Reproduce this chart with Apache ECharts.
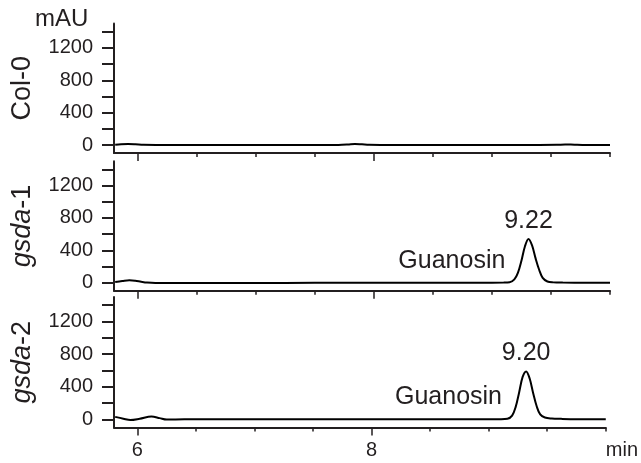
<!DOCTYPE html>
<html>
<head>
<meta charset="utf-8">
<script src="https://cdn.jsdelivr.net/npm/echarts@6/dist/echarts.min.js"></script>
<style>html,body{margin:0;padding:0;background:#fff}#c{width:641px;height:463px}</style>
</head>
<body>
<div id="c"></div>
<script>
// ---- data ----
var panelNames = ['Col-0', 'gsda-1', 'gsda-2'];
var yTickValues = [0, 200, 400, 600, 800, 1000, 1200, 1400];
var yLabelValues = [0, 400, 800, 1200];
var xMinorTicks = [6, 6.5, 7, 7.5, 8, 8.5, 9, 9.5, 10];
var xMajorTicks = [6, 8];
var xLabelValues = [6, 8, 10];

var col0Data = [
  [5.81, 4], [5.86, 9], [5.92, 11], [5.98, 8], [6.05, 2], [6.2, 0], [6.6, 0], [7.0, 0],
  [7.4, 0], [7.7, 1], [7.78, 6], [7.84, 13], [7.9, 8], [7.96, 2], [8.1, 0], [8.6, 0],
  [9.0, 0], [9.4, 0], [9.55, 2], [9.62, 7], [9.7, 3], [9.8, 0], [10.0, 0]
];
var gsda1Data = [
  [5.81, 8], [5.87, 20], [5.93, 30], [5.98, 24], [6.03, 12], [6.08, 2], [6.15, -4],
  [6.3, -5], [6.6, -4], [7.0, -3], [7.5, -2], [8.0, -1], [8.5, 0], [8.9, 0], [9.1, 1],
  [9.15, 5], [9.19, 40], [9.22, 120], [9.25, 270], [9.28, 450], [9.31, 540], [9.34, 460],
  [9.37, 300], [9.40, 160], [9.43, 60], [9.47, 15], [9.52, 4], [9.6, 1], [9.8, 0], [10.0, 0]
];
var gsda2Data = [
  [5.81, 30], [5.88, 8], [5.94, -8], [6.02, 8], [6.12, 35], [6.19, 15], [6.25, -3],
  [6.4, 0], [6.8, 0], [7.2, 0], [7.6, 0], [8.0, 0], [8.5, 0], [8.9, 0], [9.1, 1],
  [9.16, 6], [9.2, 45], [9.23, 150], [9.26, 330], [9.29, 520], [9.32, 588], [9.35, 500],
  [9.38, 320], [9.41, 160], [9.44, 60], [9.48, 22], [9.54, 10], [9.62, 6], [9.75, 2], [10.0, 0]
];
var seriesData = [col0Data, gsda1Data, gsda2Data];

// annotations: [panelIndex, x, y, text, position]
var annotations = [
  [1, 9.31, 540, '9.22', 'top'],
  [1, 9.135, 268, 'Guanosin', 'left'],
  [2, 9.32, 588, '9.20', 'top'],
  [2, 9.135, 268, 'Guanosin', 'left']
];

// ---- chart ----
var ink = '#231f20';
var font = "'Liberation Sans', Arial, Helvetica, sans-serif";
var grids = [
  {left: 114, width: 496, top: 23.6, height: 129.5},
  {left: 114, width: 496, top: 161.2, height: 129.6},
  {left: 114, width: 496, top: 297, height: 130.5}
];
var xAxes = [], yAxes = [], series = [];
for (var i = 0; i < 3; i++) {
  var last = i === 2;
  xAxes.push({
    type: 'value', gridIndex: i, min: 5.8, max: 10.0, position: 'bottom',
    axisLine: {show: true, onZero: false, lineStyle: {color: ink, width: 2}},
    axisTick: {show: true, customValues: xMinorTicks, length: 4, lineStyle: {color: ink, width: 1.5}},
    splitLine: {show: false},
    axisLabel: {show: last, customValues: xLabelValues, margin: 13, color: ink, fontSize: 20, fontFamily: font,
      alignMaxLabel: 'left',
      formatter: function (v) { return v === 10 ? 'min' : String(v); }}
  });
  xAxes.push({
    type: 'value', gridIndex: i, min: 5.8, max: 10.0, position: 'bottom', offset: 0,
    axisLine: {show: false, onZero: false},
    axisTick: {show: true, customValues: xMajorTicks, length: 8, lineStyle: {color: ink, width: 1.5}},
    splitLine: {show: false},
    axisLabel: {show: false}
  });
  var nm = i === 0 ? 'Col-0' : '{i|gsda}-' + i;
  yAxes.push({
    type: 'value', gridIndex: i, min: -100, max: 1500,
    name: nm, nameLocation: 'middle', nameRotate: 90, nameGap: 78,
    nameTextStyle: {color: ink, fontSize: 27, fontFamily: font,
      rich: {i: {fontStyle: 'italic', fontSize: 27, fontFamily: font, color: ink}}},
    axisLine: {show: true, onZero: false, lineStyle: {color: ink, width: 2}},
    axisTick: {show: true, customValues: yTickValues, length: 12, lineStyle: {color: ink, width: 2}},
    splitLine: {show: false},
    axisLabel: {show: true, customValues: yLabelValues, margin: 21, color: ink, fontSize: 20, fontFamily: font,
      formatter: function (v) { return String(v); }}
  });
  var mp = [];
  annotations.forEach(function (a) {
    if (a[0] !== i) return;
    mp.push({coord: [a[1], a[2]], value: a[3], symbolSize: 1,
      itemStyle: {color: 'rgba(0,0,0,0)'},
      label: {show: true, formatter: a[3], position: a[4], distance: a[4] === 'top' ? 5 : 2,
        color: ink, fontSize: 25, fontFamily: font}});
  });
  series.push({
    type: 'line', xAxisIndex: i * 2, yAxisIndex: i, data: seriesData[i],
    showSymbol: false, smooth: 0.35, lineStyle: {color: '#000', width: 2},
    markPoint: {symbol: 'circle', symbolSize: 1, itemStyle: {color: 'rgba(0,0,0,0)'}, data: mp,
      label: {show: true}}
  });
}

var chart = echarts.init(document.getElementById('c'), null, {renderer: 'canvas'});
chart.setOption({
  animation: false,
  backgroundColor: '#fff',
  grid: grids,
  xAxis: xAxes,
  yAxis: yAxes,
  series: series,
  graphic: [{type: 'text', left: 35, top: 7,
    style: {text: 'mAU', fill: ink, fontSize: 24, fontFamily: font}}]
});
</script>
</body>
</html>
